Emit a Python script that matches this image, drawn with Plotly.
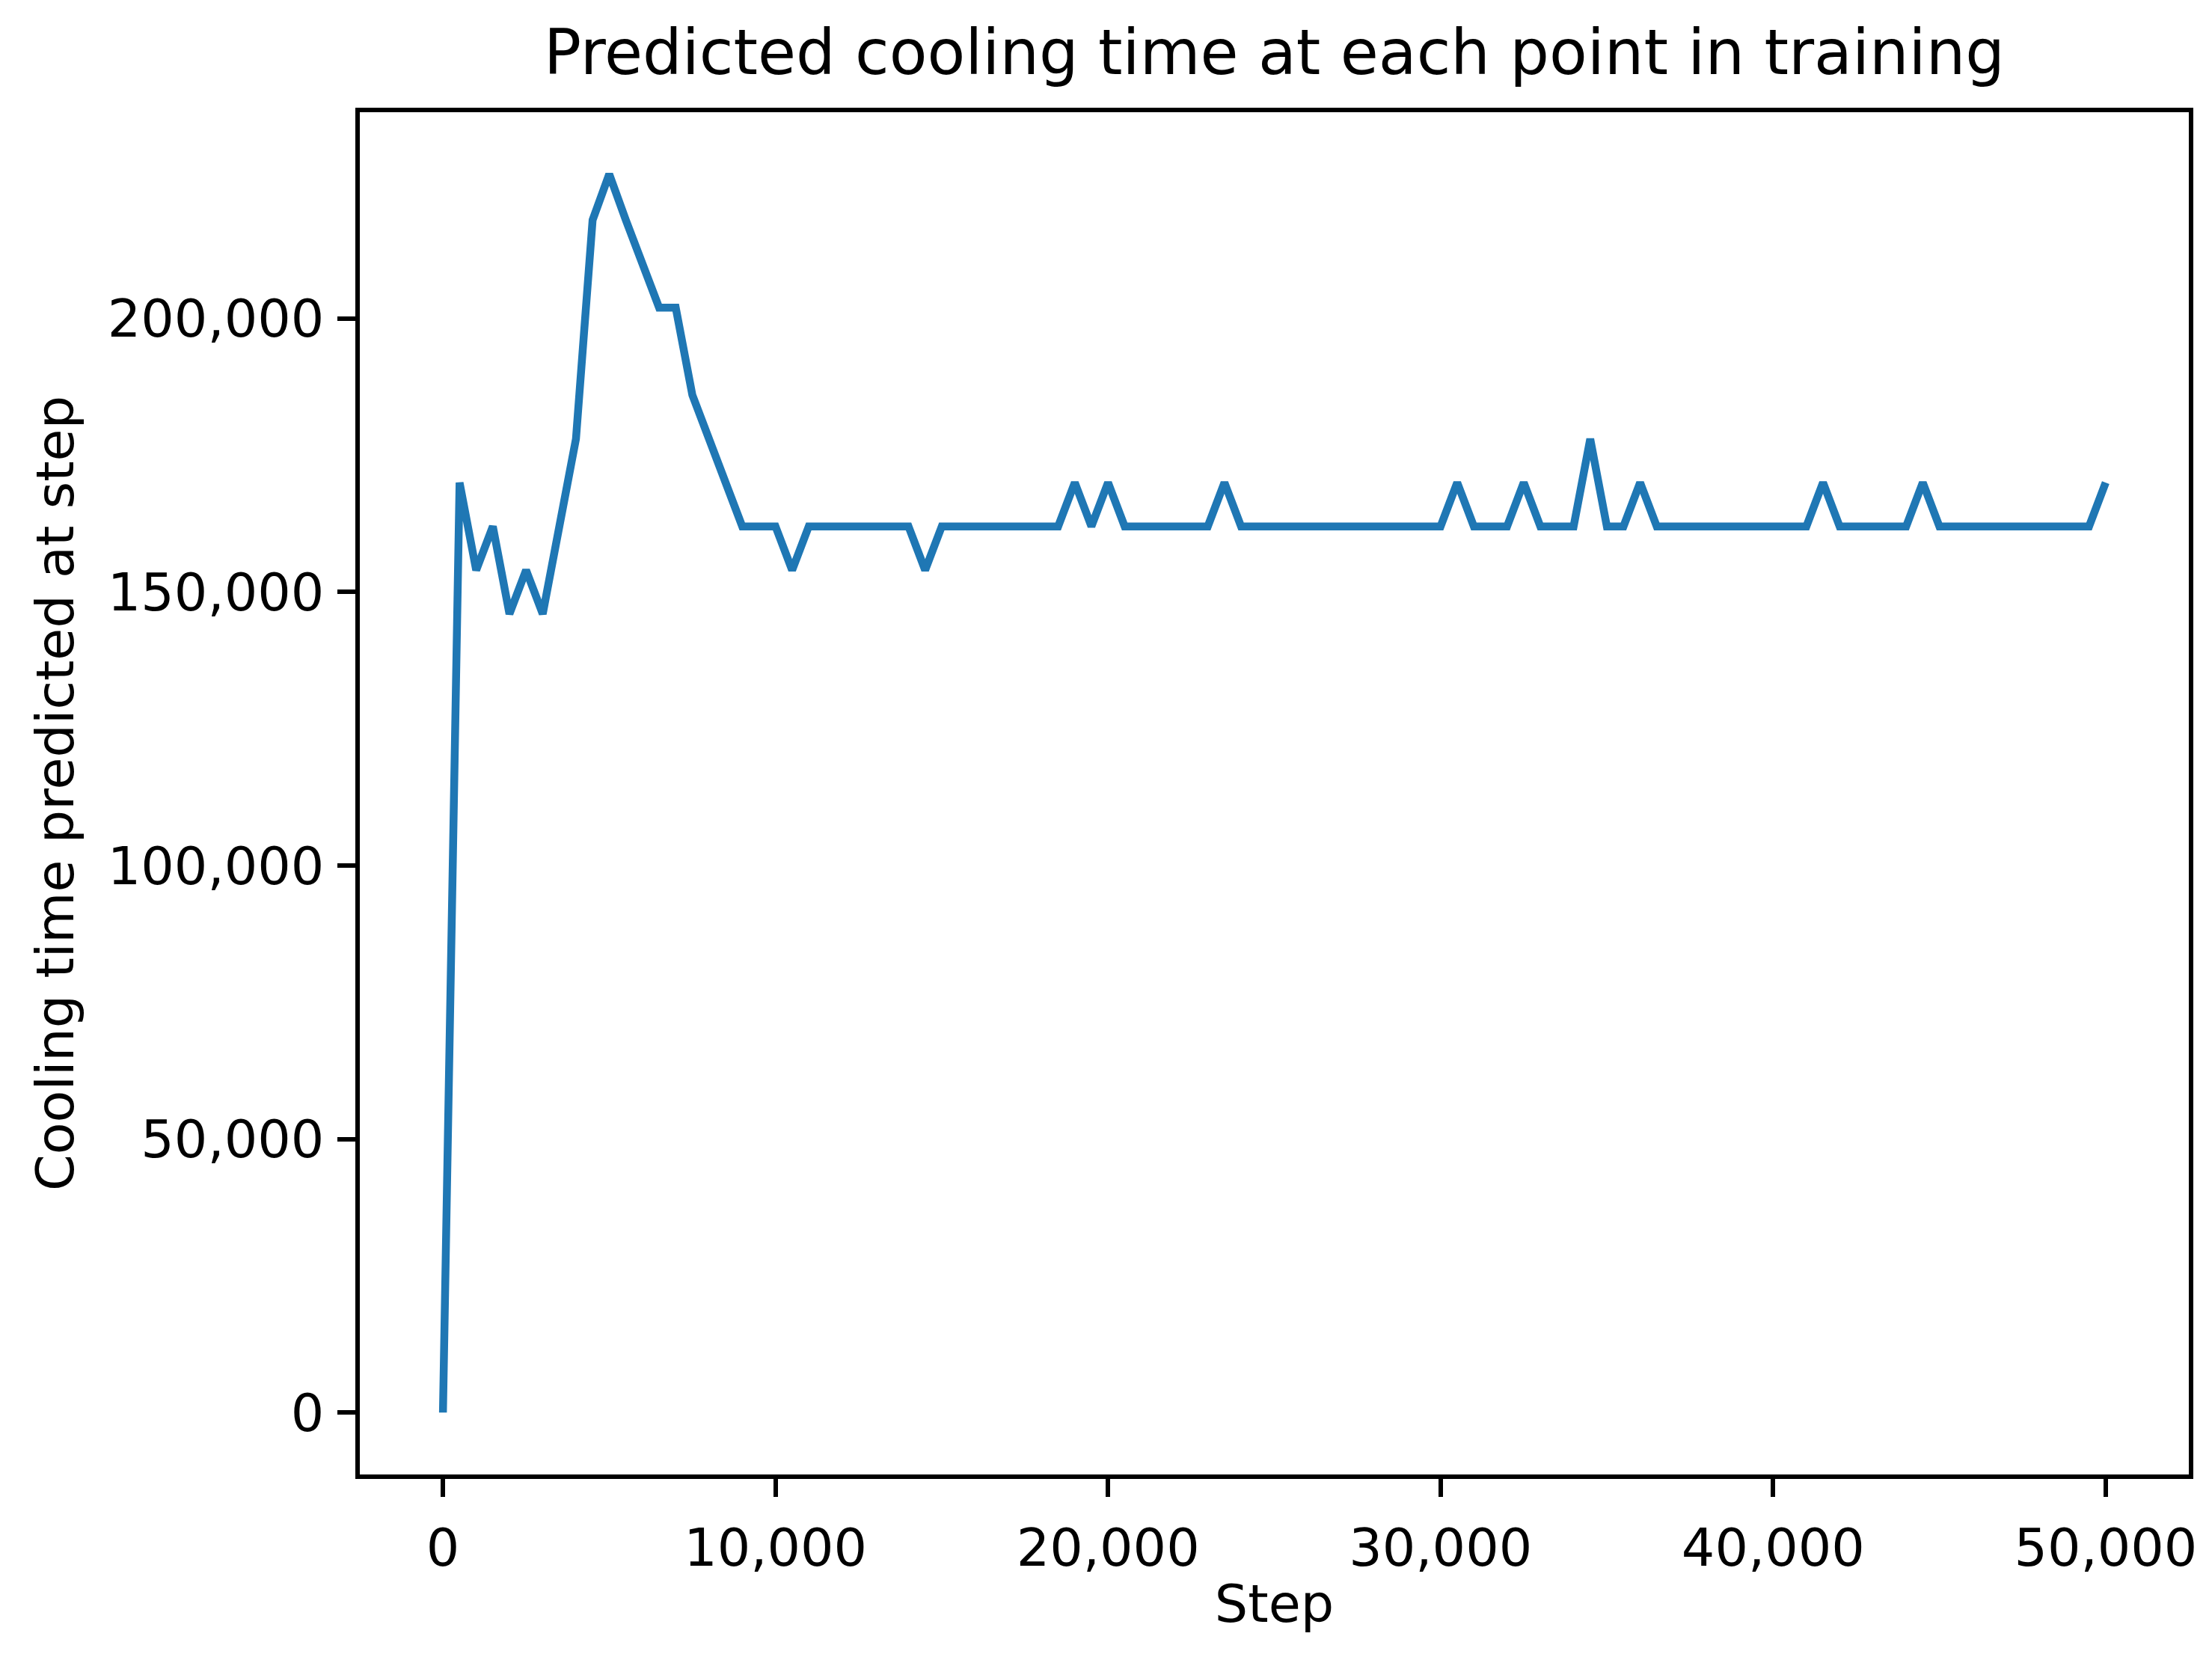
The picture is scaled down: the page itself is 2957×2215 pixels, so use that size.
import plotly.graph_objects as go

# Training steps (checkpoint every 500 steps)
steps = [
    0, 500, 1000, 1500, 2000, 2500, 3000, 3500, 4000, 4500,
    5000, 5500, 6000, 6500, 7000, 7500, 8000, 8500, 9000, 9500,
    10000, 10500, 11000, 11500, 12000, 12500, 13000, 13500, 14000, 14500,
    15000, 15500, 16000, 16500, 17000, 17500, 18000, 18500, 19000, 19500,
    20000, 20500, 21000, 21500, 22000, 22500, 23000, 23500, 24000, 24500,
    25000, 25500, 26000, 26500, 27000, 27500, 28000, 28500, 29000, 29500,
    30000, 30500, 31000, 31500, 32000, 32500, 33000, 33500, 34000, 34500,
    35000, 35500, 36000, 36500, 37000, 37500, 38000, 38500, 39000, 39500,
    40000, 40500, 41000, 41500, 42000, 42500, 43000, 43500, 44000, 44500,
    45000, 45500, 46000, 46500, 47000, 47500, 48000, 48500, 49000, 49500,
    50000,
]

# Predicted cooling time at each step
cooling_time = [
    0, 170000, 154000, 162000, 146000, 154000, 146000, 162000, 178000, 218000,
    226400, 218000, 210000, 202000, 202000, 186000, 178000, 170000, 162000, 162000,
    162000, 154000, 162000, 162000, 162000, 162000, 162000, 162000, 162000, 154000,
    162000, 162000, 162000, 162000, 162000, 162000, 162000, 162000, 170000, 162000,
    170000, 162000, 162000, 162000, 162000, 162000, 162000, 170000, 162000, 162000,
    162000, 162000, 162000, 162000, 162000, 162000, 162000, 162000, 162000, 162000,
    162000, 170000, 162000, 162000, 162000, 170000, 162000, 162000, 162000, 178000,
    162000, 162000, 170000, 162000, 162000, 162000, 162000, 162000, 162000, 162000,
    162000, 162000, 162000, 170000, 162000, 162000, 162000, 162000, 162000, 170000,
    162000, 162000, 162000, 162000, 162000, 162000, 162000, 162000, 162000, 162000,
    170000,
]

x_ticks = [0, 10000, 20000, 30000, 40000, 50000]
y_ticks = [0, 50000, 100000, 150000, 200000]

FONT = "DejaVu Sans"

fig = go.Figure()
fig.add_trace(go.Scatter(
    x=steps, y=cooling_time, mode="lines",
    line=dict(color="#1f77b4", width=10.5),
))

# Axis styling, matplotlib-like
axis_style = dict(
    showline=True, linecolor="black", linewidth=5.5, mirror=True,
    ticks="outside", ticklen=24, tickwidth=5.5, tickcolor="black",
    showgrid=False, zeroline=False, tickformat=",d",
    tickfont=dict(family=FONT, size=70, color="black"),
)
fig.update_xaxes(
    **axis_style, range=[-2500, 52500], tickvals=x_ticks,
    ticklabelstandoff=8,
    title=dict(text="Step", font=dict(family=FONT, size=70, color="black"),
               standoff=12),
)
fig.update_yaxes(
    **axis_style, range=[-11320, 237720], tickvals=y_ticks,
    ticklabelstandoff=4,
    title=dict(text="Cooling time predicted at step",
               font=dict(family=FONT, size=70, color="black"), standoff=24),
)

fig.update_layout(
    width=2957, height=2215,
    template="simple_white",
    paper_bgcolor="white", plot_bgcolor="white",
    showlegend=False,
    margin=dict(l=473, r=39, t=142, b=252, autoexpand=False),
    title=dict(
        text="Predicted cooling time at each point in training",
        font=dict(family=FONT, size=83, color="black"),
        x=(473 + 2918) / 2 / 2957, xanchor="center",
        y=1 - 62 / 2215, yanchor="middle", yref="container",
    ),
)

fig.write_html("out.html")
